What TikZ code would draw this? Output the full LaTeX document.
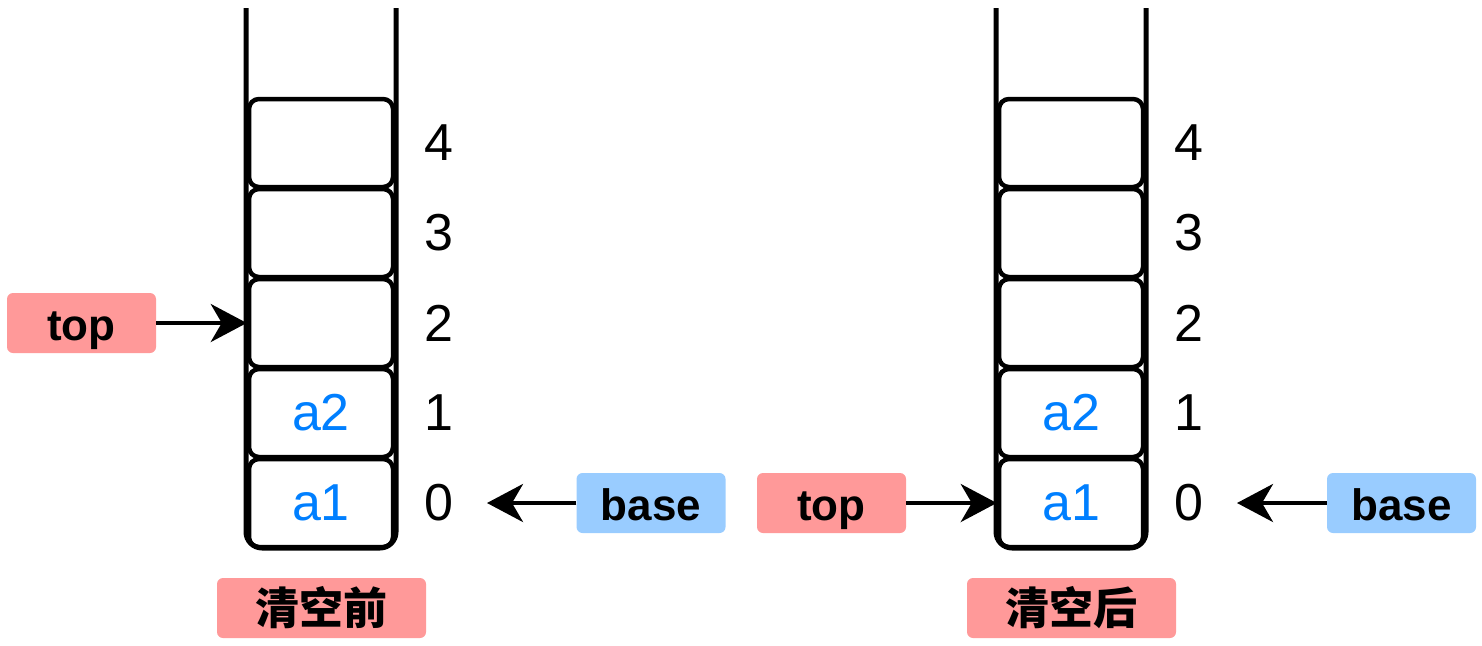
\documentclass[tikz,border=0pt]{standalone}
\usepackage{fontspec}
\setmainfont{Liberation Sans}
\newfontfamily\cjk{Noto Sans CJK SC}
\usetikzlibrary{arrows.meta}
\definecolor{tagred}{HTML}{FF9999}
\definecolor{tagblue}{HTML}{99CCFF}
\definecolor{elemblue}{HTML}{007FFF}

\begin{document}
\begin{tikzpicture}[x=1pt,y=-1pt,
    wall/.style={line width=5pt,rounded corners=16pt},
    cell/.style={draw,line width=4.5pt,rounded corners=10pt,minimum width=144pt,minimum height=88pt,inner sep=0pt},
    elem/.style={text=elemblue,font=\fontsize{52}{58}\selectfont},
    idx/.style={font=\fontsize{52}{58}\selectfont},
    tag/.style={rounded corners=6pt,minimum width=149pt,minimum height=60pt,inner sep=0pt,text height=38pt,text depth=3.4pt,font=\fontsize{44}{50}\selectfont\bfseries},
    caption/.style={fill=tagred,rounded corners=6pt,minimum width=209pt,minimum height=60pt,inner sep=0pt,font=\cjk\fontsize{44}{50}\selectfont\bfseries},
    ptr/.style={line width=4pt,-{Stealth[length=36pt,width=38pt,inset=11pt]}},
]
    \useasboundingbox (0,0) rectangle (1482,645);

    % two stacks: before / after clearing
    \foreach \s/\dx in {L/0,R/750}{
        \draw[wall] (\dx+246,8) -- (\dx+246,548) -- (\dx+396,548) -- (\dx+396,8);
        \foreach \i/\t in {0/a1,1/a2,2/,3/,4/}{
            \node[cell,elem] (\s\i) at (\dx+321,503-90*\i) {\t};
            \node[idx] (\s n\i) at (\dx+439,503-90*\i) {\i};
        }
    }

    % before
    \node[tag,fill=tagred] (topL) at (81.5,323) {top};
    \draw[ptr] (topL.east) -- (L2.west);
    \node[tag,fill=tagblue] (baseL) at (651,503) {base};
    \coordinate (baseLend) at (487,503);
    \draw[ptr] (baseL.west) -- (baseLend);
    \node[caption] (capL) at (321.5,608) {清空前};

    % after
    \node[tag,fill=tagred] (topR) at (831.5,503) {top};
    \draw[ptr] (topR.east) -- (R0.west);
    \node[tag,fill=tagblue] (baseR) at (1401.5,503) {base};
    \coordinate (baseRend) at (1237,503);
    \draw[ptr] (baseR.west) -- (baseRend);
    \node[caption] (capR) at (1071.5,608) {清空后};
\end{tikzpicture}
\end{document}
